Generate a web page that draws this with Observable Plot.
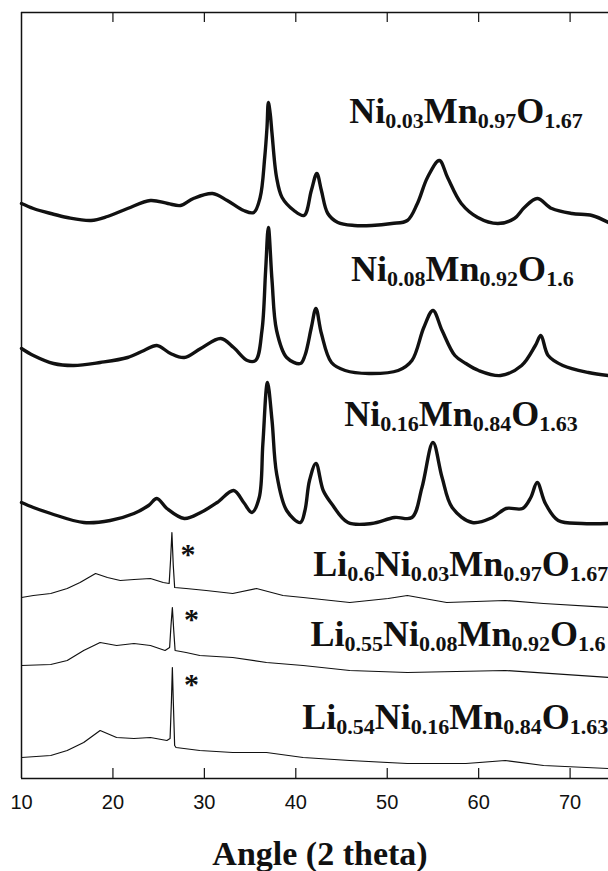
<!DOCTYPE html>
<html><head><meta charset="utf-8">
<script src="https://cdn.jsdelivr.net/npm/d3@7"></script>
<script src="https://cdn.jsdelivr.net/npm/@observablehq/plot@0.6"></script>
<style>
body{margin:0;background:#fff}
#chart{width:608px;height:871px}
</style>
</head><body><div id="chart"></div>
<script>
// ---- data (2θ angle, stacked intensity in arbitrary units) ----
const ni003 = [[10,575],[11.3,570],[13.2,565],[15,561],[17.6,558],[19.4,562],[21.6,570],[24.1,578],[26,575],[27.4,573],[28.8,580],[30.9,585],[32.5,578],[34.3,568],[35.4,566],[36.1,581],[36.6,621],[36.85,651],[37,676],[37.2,665],[37.4,645],[37.9,601],[38.5,581],[39.8,568],[40.9,563],[41.7,588],[42.3,605],[42.8,588],[43.5,565],[44.6,556],[46.4,553],[48.3,553],[50.5,555],[52.2,558],[53.3,575],[54.4,601],[55.7,618],[56.6,601],[58.1,575],[59.9,561],[62.1,555],[63.9,560],[65,571],[66.4,580],[68,570],[70.2,565],[72.4,563],[74.2,556]];
const ni008 = [[10,430],[11.3,423],[13.5,415],[15.7,413],[18.6,416],[21.6,421],[23.4,428],[24.8,433],[26.3,425],[27.8,421],[29.6,430],[31.8,440],[33.2,431],[34.7,418],[35.6,418],[36.3,448],[36.7,508],[37,551],[37.4,498],[37.9,448],[39,421],[40.5,415],[41,423],[41.7,451],[42.2,470],[42.8,445],[43.9,416],[45.4,408],[48,405],[51.2,408],[52.7,418],[54,451],[55,468],[56,448],[57.4,423],[58.6,415],[60,408],[62.4,403],[64.7,413],[66.2,433],[66.8,443],[67.6,423],[69.2,413],[72,406],[74.2,403]];
const ni016 = [[10,276],[11.3,271],[13.2,265],[16.8,256],[19.7,258],[22.3,265],[23.9,273],[24.8,280],[25.9,270],[27.8,260],[29.6,266],[31.4,276],[33.2,288],[34.3,276],[35.2,266],[36,281],[36.4,335],[36.9,396],[37.4,358],[37.9,305],[39,268],[40.5,256],[41,268],[41.5,298],[42.2,315],[43,288],[43.9,275],[45.7,256],[48.3,255],[50.8,261],[52.7,261],[53.8,291],[55,336],[56,301],[57.1,271],[59.3,256],[61.5,261],[63,270],[64.8,270],[65.7,281],[66.4,296],[67.3,275],[68.7,258],[71.3,255],[74.2,255]];
const li06 = [[10,181],[11.3,183],[13.2,185],[15,190],[16.4,196],[18.1,205],[19.4,201],[20.8,198],[22.3,199],[24.1,200],[25.5,196],[26.15,195],[26.3,218],[26.45,246],[26.6,213],[26.75,191],[28,190],[30.2,188],[33.1,185],[35.7,190],[38.6,183],[40.8,181],[45.9,176],[50.1,180],[52.2,183],[56.5,176],[62.9,178],[67.1,175],[74.2,171]];
const li055 = [[10,113],[13.2,114],[15,118],[16.8,128],[18.6,136],[20.4,133],[22.3,135],[24.1,133],[25.7,128],[26.2,131],[26.35,153],[26.5,171],[26.65,148],[26.8,128],[28,126],[29.5,123],[33.1,121],[36.8,116],[40.8,113],[45.9,108],[52.2,106],[62.9,108],[74.2,101]];
const li054 = [[10,21],[13.2,23],[15,28],[16.8,36],[18.6,48],[20.4,41],[22.3,40],[24.1,41],[25.9,38],[26.25,40],[26.4,78],[26.5,111],[26.6,78],[26.75,33],[26.9,31],[29.5,28],[33.1,26],[36.8,26],[40.8,21],[45.9,18],[52.2,15],[58.6,15],[62.9,18],[67.1,13],[74.2,10]];

const sampleNames = ["Ni0.03Mn0.97O1.67","Ni0.08Mn0.92O1.6","Ni0.16Mn0.84O1.63","Li0.6Ni0.03Mn0.97O1.67","Li0.55Ni0.08Mn0.92O1.6","Li0.54Ni0.16Mn0.84O1.63"];
const sampleData = [ni003, ni008, ni016, li06, li055, li054];
const labelText = ["Ni_{0.03}Mn_{0.97}O_{1.67}","Ni_{0.08}Mn_{0.92}O_{1.6}","Ni_{0.16}Mn_{0.84}O_{1.63}","Li_{0.6}Ni_{0.03}Mn_{0.97}O_{1.67}","Li_{0.55}Ni_{0.08}Mn_{0.92}O_{1.6}","Li_{0.54}Ni_{0.16}Mn_{0.84}O_{1.63}"];
const labelX = [45.85, 46.05, 45.3, 41.9, 41.6, 40.7];
const labelY = [667, 509, 364, 214, 144, 61];
const starX = [28.2, 28.6, 28.6];
const starY = [224.5, 159.5, 94.5];
const xTicks = [10,20,30,40,50,60,70];
const innerTicks = [20,30,40,50,60,70];
const xDomain = [10, 74.2];
const yDomain = [0, 766];
const xLabel = "Angle (2 theta)";

// ---- build tables ----
const rows = sampleData.flatMap((arr, i) => arr.map(([a, v]) => ({sample: sampleNames[i], angle: a, value: v, lithiated: i >= 3})));
const labels = labelText.map((t, i) => ({t, x: labelX[i], y: labelY[i]}));
const stars = starX.map((x, i) => ({x, y: starY[i]}));

const ink = "#111";
const serif = "Liberation Serif, Times New Roman, serif";

const chart = Plot.plot({
  width: 608, height: 871,
  marginTop: 12, marginBottom: 93, marginLeft: 21, marginRight: 0,
  x: {domain: xDomain},
  y: {domain: yDomain, axis: null},
  style: {fontFamily: "Liberation Sans, Arial, sans-serif", fontSize: "20px", color: ink, background: "#fff"},
  marks: [
    Plot.ruleX([xDomain[0]], {stroke: ink, strokeWidth: 1.5}),
    Plot.ruleY([yDomain[0], yDomain[1]], {stroke: ink, strokeWidth: 1.5}),
    Plot.tickX(innerTicks, {x: d => d, insetTop: 756, stroke: ink, strokeWidth: 1.2}),
    Plot.tickX(innerTicks, {x: d => d, insetBottom: 756, stroke: ink, strokeWidth: 1.2}),
    Plot.axisX(xTicks, {anchor: "bottom", tickSize: 0, tickPadding: 16, label: null, fontSize: 20}),
    Plot.line(rows.filter(d => !d.lithiated), {x: "angle", y: "value", z: "sample", stroke: ink, strokeWidth: 3.4, curve: "catmull-rom"}),
    Plot.line(rows.filter(d => d.lithiated), {x: "angle", y: "value", z: "sample", stroke: ink, strokeWidth: 1.2, curve: "linear"}),
    Plot.text(labels, {x: "x", y: "y", text: "t", textAnchor: "start", fontFamily: serif, fontWeight: "bold", fontSize: 36, fill: ink}),
    Plot.text(stars, {x: "x", y: "y", text: () => "*", fontFamily: serif, fontWeight: "bold", fontSize: 30, fill: ink}),
    Plot.text([xLabel], {text: d => d, frameAnchor: "bottom", dy: 86, dx: 5, fontFamily: serif, fontWeight: "bold", fontSize: 34, fill: ink})
  ]
});

// enlarge numeric tick labels
chart.querySelectorAll("text").forEach(t => {
  if (/^\d+$/.test(t.textContent.trim())) {
    t.style.fontSize = "20px";
    t.style.fontFamily = "Liberation Sans, Arial, sans-serif";
  }
});

// convert "_{...}" markup into subscript tspans
const NS = "http://www.w3.org/2000/svg";
chart.querySelectorAll("text").forEach(t => {
  const s = t.textContent;
  if (!s.includes("_{")) return;
  const parts = s.split(/(_\{[^}]*\})/).filter(p => p.length);
  while (t.firstChild) t.removeChild(t.firstChild);
  let down = false;
  for (const p of parts) {
    const ts = document.createElementNS(NS, "tspan");
    if (p.startsWith("_{")) {
      ts.textContent = p.slice(2, -1);
      ts.setAttribute("font-size", "22");
      if (!down) { ts.setAttribute("dy", "5"); down = true; }
    } else {
      ts.textContent = p;
      if (down) { ts.setAttribute("dy", "-5"); down = false; }
    }
    t.appendChild(ts);
  }
});

document.getElementById("chart").appendChild(chart);
</script></body></html>
